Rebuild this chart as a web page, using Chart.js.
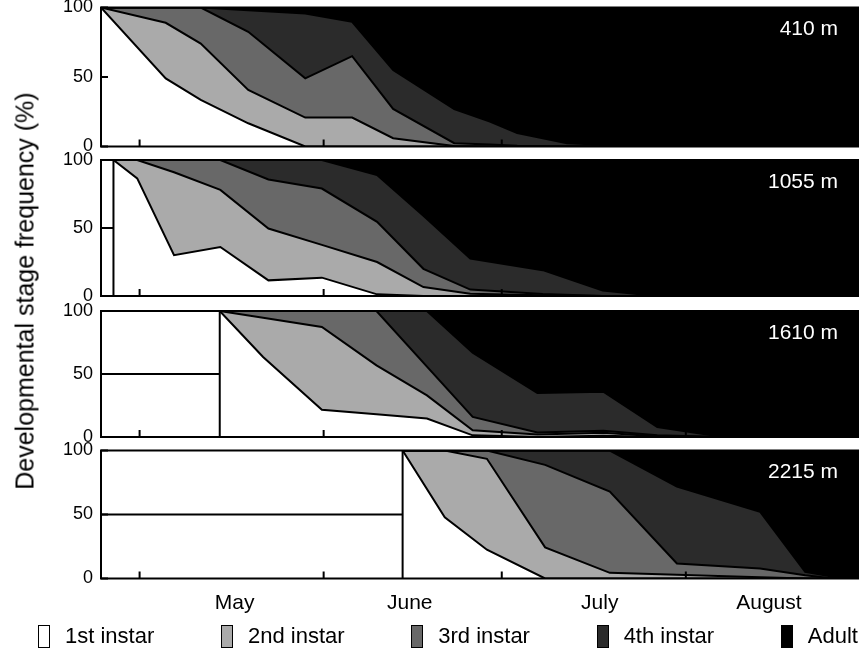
<!DOCTYPE html>
<html>
<head>
<meta charset="utf-8">
<script src="https://cdn.jsdelivr.net/npm/chart.js@4.4.1/dist/chart.umd.min.js"></script>
<style>
html,body{margin:0;padding:0;background:#fff;}
#wrap{position:relative;width:866px;height:650px;overflow:hidden;font-family:"Liberation Sans",Arial,Helvetica,sans-serif;color:#000;}
#wrap canvas{position:absolute;left:0;top:0;}
#ytitle{position:absolute;left:25px;top:291px;transform:translate(-50%,-50%) rotate(-90deg);white-space:nowrap;font-size:25px;}
#legend{position:absolute;left:38px;width:820px;top:624px;height:24px;display:flex;justify-content:space-between;align-items:center;font-size:22px;}
#legend .item{display:flex;align-items:center;}
#legend .box{width:10px;height:21px;border:1.5px solid #000;margin-right:15px;}
</style>
</head>
<body>
<div id="wrap">
  <canvas id="c0" width="866" height="650"></canvas>
  <canvas id="c1" width="866" height="650"></canvas>
  <canvas id="c2" width="866" height="650"></canvas>
  <canvas id="c3" width="866" height="650"></canvas>
  <div id="ytitle">Developmental stage frequency (%)</div>
  <div id="legend"></div>
</div>
<script>
// ---------- data (x = days since 1 May, values = % of individuals) ----------
const stageNames = ['1st instar', '2nd instar', '3rd instar', '4th instar', 'Adult'];
const panelNames = ['410 m', '1055 m', '1610 m', '2215 m'];
const monthNames = ['May', 'June', 'July', 'August'];
const monthStartDays = [0, 31, 61, 92];
const monthLabelDays = [16, 45.5, 77.5, 106];
const yTickValues = [0, 50, 100];
const dayMin = -6.5;
const dayMax = 121;

// 410 m
const days410   = [-6.5, 4.4, 10.3, 18.3, 27.9, 35.8, 42.7, 53.0, 59.0, 63.6, 72.0, 84.8, 121];
const first410  = [100, 49, 33.5, 16.7, 0, 0, 0, 0, 0, 0, 0, 0, 0];
const second410 = [0, 40, 40.5, 24, 20.8, 20.8, 6, 0.3, 0, 0, 0, 0, 0];
const third410  = [0, 11, 26, 41.8, 28.2, 44.2, 21, 2.1, 1.5, 0.5, 0, 0, 0];
const fourth410 = [0, 0, 0, 15.5, 46.7, 24.7, 28, 24.6, 16.5, 9.1, 2.4, 0, 0];
const adult410  = [0, 0, 0, 2, 4.3, 10.3, 45, 73, 82, 90.4, 97.6, 100, 100];

// 1055 m
const days1055   = [-4.4, -0.4, 5.8, 13.6, 21.7, 30.7, 40.0, 47.8, 55.7, 67.9, 78.0, 87.1, 121];
const first1055  = [100, 86.5, 30, 36, 11.5, 13.5, 1.2, 0, 0, 0, 0, 0, 0];
const second1055 = [0, 13.5, 61, 42, 38.1, 24.1, 23.8, 6.6, 1.7, 0.5, 0, 0, 0];
const third1055  = [0, 0, 9, 22, 36.1, 41.4, 29.5, 13.4, 3, 1, 0, 0, 0];
const fourth1055 = [0, 0, 0, 0, 14.3, 21, 34.5, 39, 22.8, 17.5, 4, 0, 0];
const adult1055  = [0, 0, 0, 0, 0, 0, 11, 41, 72.5, 81, 96, 100, 100];

// 1610 m
const days1610   = [13.5, 20.8, 30.7, 39.9, 48.4, 56.1, 67.0, 78.1, 87.2, 98.3, 121];
const first1610  = [100, 63.5, 21.7, 18, 14.6, 1.3, 0, 1, 0, 0, 0];
const second1610 = [0, 31.2, 65.6, 38.9, 18.4, 4, 1.9, 2.4, 0.5, 0, 0];
const third1610  = [0, 5.3, 12.7, 43.1, 22.8, 10.6, 1.6, 1.6, 0.8, 0, 0];
const fourth1610 = [0, 0, 0, 0, 44.2, 51, 31.5, 31, 6.6, 0, 0];
const adult1610  = [0, 0, 0, 0, 0, 33.1, 65, 64, 92.1, 100, 100];

// 2215 m
const days2215   = [44.3, 51.4, 58.5, 68.3, 79.2, 90.5, 104.5, 112.1, 116.8, 121];
const first2215  = [100, 47.8, 22.5, 0, 0, 0, 0, 0, 0, 0];
const second2215 = [0, 52.2, 71, 24.3, 4.4, 3, 1, 0, 0, 0];
const third2215  = [0, 0, 6.5, 64.5, 63.5, 8.7, 6.8, 2.6, 0, 0];
const fourth2215 = [0, 0, 0, 11.2, 32.1, 60.1, 44.4, 2.6, 1.3, 0];
const adult2215  = [0, 0, 0, 0, 0, 28.2, 47.8, 94.8, 98.7, 100];

// ---------- styling / layout ----------
const stageFill = ['#ffffff', '#aaaaaa', '#686868', '#2b2b2b', '#000000'];
const panelArea = [[7.5, 146.5], [160, 296], [311, 437], [450.5, 578.5]]; // plot top / bottom (px)
const FONT = '"Liberation Sans", Arial, Helvetica, sans-serif';

const panels = [
  { name: panelNames[0], days: days410,  stages: [first410, second410, third410, fourth410, adult410] },
  { name: panelNames[1], days: days1055, stages: [first1055, second1055, third1055, fourth1055, adult1055] },
  { name: panelNames[2], days: days1610, stages: [first1610, second1610, third1610, fourth1610, adult1610] },
  { name: panelNames[3], days: days2215, stages: [first2215, second2215, third2215, fourth2215, adult2215] }
];

const framePlugin = {
  id: 'frame',
  afterDatasetsDraw(chart, args, opts) {
    const { ctx, chartArea: a } = chart;
    const x = chart.scales.x, y = chart.scales.y;
    ctx.save();
    ctx.strokeStyle = '#000';
    ctx.lineWidth = 2;
    ctx.beginPath();
    monthStartDays.forEach(d => {
      const px = x.getPixelForValue(d);
      ctx.moveTo(px, a.bottom);
      ctx.lineTo(px, a.bottom - 7);
    });
    yTickValues.forEach(v => {
      const py = y.getPixelForValue(v);
      ctx.moveTo(a.left, py);
      ctx.lineTo(a.left + 7, py);
    });
    ctx.stroke();
    ctx.strokeRect(a.left, a.top, a.right - a.left, a.bottom - a.top);
    ctx.fillStyle = '#ffffff';
    ctx.font = '21px ' + FONT;
    ctx.textAlign = 'right';
    ctx.textBaseline = 'middle';
    ctx.fillText(opts.label, a.right - 20, a.top + 22);
    ctx.restore();
  }
};

const charts = panels.map((p, i) => {
  const isLast = i === panels.length - 1;
  const [top, bottom] = panelArea[i];
  const xAxisH = isLast ? 40 : 0;
  const datasets = p.stages.map((vals, k) => ({
    label: stageNames[k],
    data: p.days.map((d, j) => ({ x: d, y: vals[j] })),
    backgroundColor: stageFill[k],
    borderColor: '#000',
    borderWidth: 2,
    pointRadius: 0,
    tension: 0,
    fill: k === 0 ? 'origin' : '-1'
  }));
  const mid = (yTickValues[0] + yTickValues[yTickValues.length - 1]) / 2;
  const top100 = yTickValues[yTickValues.length - 1];
  datasets.push({
    label: 'no data',
    stack: 'frame',
    data: [{ x: dayMin, y: mid }, { x: p.days[0], y: mid }, { x: p.days[0], y: 0 }, { x: p.days[0], y: top100 }],
    borderColor: '#000',
    borderWidth: 2,
    pointRadius: 0,
    fill: false
  });
  return new Chart(document.getElementById('c' + i), {
    type: 'line',
    data: { datasets },
    plugins: [framePlugin],
    options: {
      responsive: false,
      animation: false,
      devicePixelRatio: 1,
      events: [],
      layout: { padding: { left: 0, right: 866 - 858, top: top, bottom: 650 - bottom - xAxisH } },
      plugins: {
        legend: { display: false },
        tooltip: { enabled: false },
        filler: { drawTime: 'beforeDatasetsDraw' },
        frame: { label: p.name }
      },
      scales: {
        x: {
          type: 'linear', min: dayMin, max: dayMax, display: isLast,
          grid: { display: false, drawTicks: false }, border: { display: false },
          afterBuildTicks: s => { s.ticks = monthLabelDays.map(v => ({ value: v })); },
          ticks: { autoSkip: false, maxRotation: 0, minRotation: 0, padding: 12, color: '#000',
                   font: { size: 21, family: FONT }, callback: (v, idx) => monthNames[idx] },
          afterFit: s => { s.height = xAxisH; s.paddingLeft = 0; s.paddingRight = 0; }
        },
        y: {
          stacked: true, min: 0, max: 100,
          grid: { display: false, drawTicks: false }, border: { display: false },
          afterBuildTicks: s => { s.ticks = yTickValues.map(v => ({ value: v })); },
          ticks: { padding: 8, color: '#000', font: { size: 18, family: FONT } },
          afterFit: s => { s.width = 101; s.paddingTop = 0; s.paddingBottom = 0; }
        }
      }
    }
  });
});

// HTML legend built from the chart's own legend items
const lastChart = charts[charts.length - 1];
const items = Chart.defaults.plugins.legend.labels.generateLabels(lastChart)
  .filter(it => it.datasetIndex < stageNames.length);
const legendEl = document.getElementById('legend');
items.forEach(it => {
  const d = document.createElement('div');
  d.className = 'item';
  const b = document.createElement('span');
  b.className = 'box';
  b.style.background = it.fillStyle;
  const t = document.createElement('span');
  t.textContent = it.text;
  d.appendChild(b);
  d.appendChild(t);
  legendEl.appendChild(d);
});
</script>
</body>
</html>
